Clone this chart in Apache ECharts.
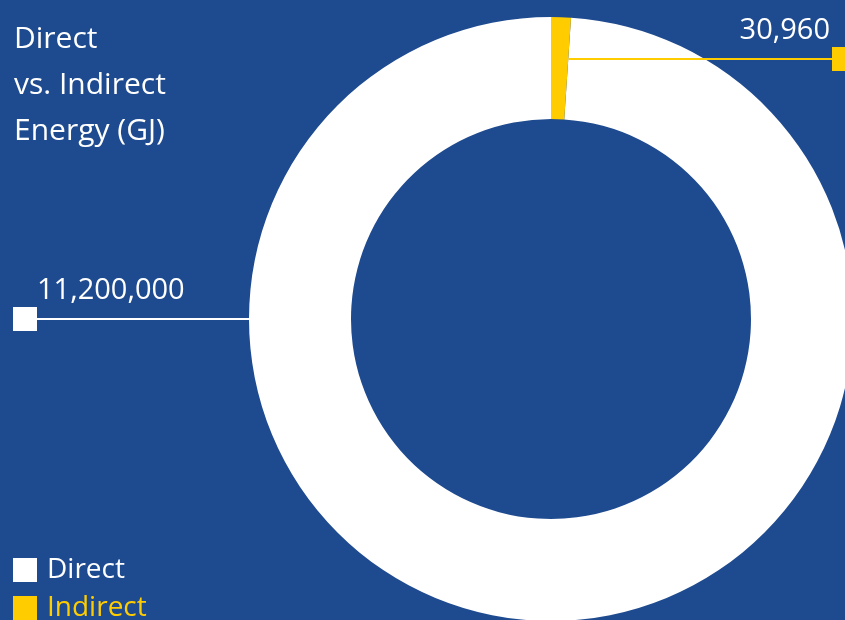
<!DOCTYPE html>
<html>
<head>
<meta charset="utf-8">
<style>html,body{margin:0;padding:0;background:#1E4A8F;}#c{width:845px;height:620px;}</style>
<script src="https://cdn.jsdelivr.net/npm/echarts@6/dist/echarts.min.js"></script>
</head>
<body>
<div id="c"></div>
<script>
const categories = ['Direct', 'Indirect'];
const values = [11200000, 30960];
const valueLabels = ['11,200,000', '30,960'];
const colors = ['#FFFFFF', '#FFCC00'];
const titleText = 'Direct\nvs. Indirect\nEnergy (GJ)';

const chart = echarts.init(document.getElementById('c'));
const W = 845;

const baseData = categories.map((name, i) => ({
  name: name,
  value: values[i],
  itemStyle: { color: colors[i] }
}));

const labelData = categories.map((name, i) => ({
  name: name,
  value: values[i],
  itemStyle: { color: 'rgba(0,0,0,0)' },
  labelLine: { lineStyle: { color: colors[i], width: 2, opacity: 1 } },
  label: {
    formatter: i === 0 ? '{g|}{v|' + valueLabels[i] + '}\n{sq|}' : '{v|' + valueLabels[i] + '}{g|}\n{sq|}',
    rich: {
      v: { color: '#FFFFFF', fontFamily: 'Open Sans', fontSize: 29, lineHeight: 32 },
      g: { width: i === 0 ? 24 : 26, height: 10 },
      sq: { backgroundColor: colors[i], width: 24, height: 24, lineHeight: 24 }
    }
  }
}));

const pieCommon = {
  type: 'pie',
  center: [551, 319],
  radius: [200, 302],
  startAngle: 90,
  clockwise: false,
  minAngle: 3.8,
  silent: true,
  legendHoverLink: false
};

chart.setOption({
  backgroundColor: '#1E4A8F',
  animation: false,
  title: {
    text: titleText,
    left: 9,
    top: 11,
    textStyle: { color: '#FFFFFF', fontFamily: 'Open Sans', fontWeight: 'normal', fontSize: 30, lineHeight: 46 }
  },
  legend: {
    orient: 'vertical',
    left: 13,
    top: 556,
    height: 120,
    padding: 0,
    icon: 'rect',
    itemWidth: 24,
    itemHeight: 24,
    itemGap: 10,
    textStyle: { fontFamily: 'Open Sans', fontSize: 28, lineHeight: 24, padding: [0, 0, 0, 5] },
    data: [
      { name: 'Direct', itemStyle: { color: colors[0] }, textStyle: { color: colors[0] } },
      { name: 'Indirect', itemStyle: { color: colors[1] }, textStyle: { color: colors[1] } }
    ]
  },
  series: [
    Object.assign({}, pieCommon, {
      z: 2,
      data: baseData,
      label: { show: false },
      labelLine: { show: false }
    }),
    Object.assign({}, pieCommon, {
      z: 5,
      data: labelData,
      label: { show: true, position: 'outside' },
      labelLine: { show: true, length: 10, length2: 10, smooth: false },
      labelLayout: function (p) {
        const r = p.rect;
        if (p.dataIndex === 0) {
          const cy = r.y + r.height / 2;
          return {
            x: 13, y: cy + 12, align: 'left', verticalAlign: 'bottom',
            labelLinePoints: [[r.x, cy], [r.x, cy], [25, cy]]
          };
        } else {
          const ly = r.y + r.height * 0.41;
          const lx = r.x + r.width * 0.88;
          return {
            x: W + 11, y: ly + 12, align: 'right', verticalAlign: 'bottom',
            labelLinePoints: [[lx, ly], [lx, ly], [W, ly]]
          };
        }
      }
    })
  ]
});
</script>
</body>
</html>
